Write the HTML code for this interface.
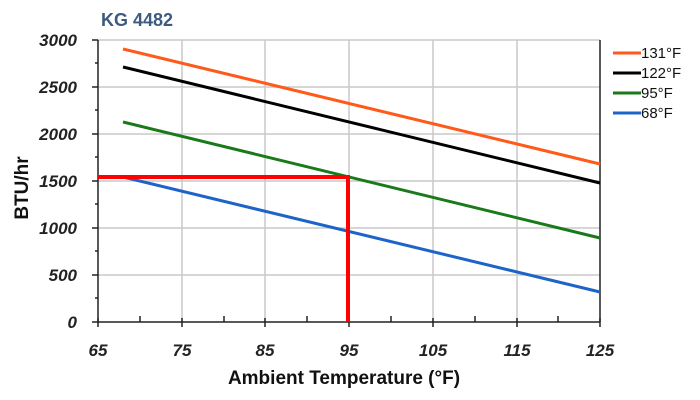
<!DOCTYPE html>
<html><head><style>body{margin:0;background:#fff}svg{display:block}</style></head><body>
<svg width="700" height="400" xmlns="http://www.w3.org/2000/svg" font-family="Liberation Sans, sans-serif">
<text x="101" y="26" font-size="18" font-weight="bold" fill="#3d5a80">KG 4482</text>
<g stroke="#c8c8c8" stroke-width="1.5">
<line x1="98" y1="40" x2="600" y2="40"/><line x1="98" y1="87" x2="600" y2="87"/><line x1="98" y1="134" x2="600" y2="134"/><line x1="98" y1="181" x2="600" y2="181"/><line x1="98" y1="228" x2="600" y2="228"/><line x1="98" y1="275" x2="600" y2="275"/>
<line x1="182" y1="40" x2="182" y2="322"/><line x1="265" y1="40" x2="265" y2="322"/><line x1="349" y1="40" x2="349" y2="322"/><line x1="433" y1="40" x2="433" y2="322"/><line x1="517" y1="40" x2="517" y2="322"/>
</g>
<g stroke="#222" stroke-width="1.5">
<line x1="98" y1="40" x2="98" y2="322"/><line x1="600" y1="40" x2="600" y2="322"/><line x1="98" y1="322" x2="600" y2="322"/>
<line x1="92" y1="40" x2="98" y2="40"/><line x1="92" y1="87" x2="98" y2="87"/><line x1="92" y1="134" x2="98" y2="134"/><line x1="92" y1="181" x2="98" y2="181"/><line x1="92" y1="228" x2="98" y2="228"/><line x1="92" y1="275" x2="98" y2="275"/><line x1="92" y1="322" x2="98" y2="322"/>
<line x1="95" y1="63" x2="98" y2="63"/><line x1="95" y1="110" x2="98" y2="110"/><line x1="95" y1="157" x2="98" y2="157"/><line x1="95" y1="204" x2="98" y2="204"/><line x1="95" y1="251" x2="98" y2="251"/><line x1="95" y1="298" x2="98" y2="298"/>
<line x1="140" y1="316" x2="140" y2="322"/><line x1="224" y1="316" x2="224" y2="322"/><line x1="307" y1="316" x2="307" y2="322"/><line x1="391" y1="316" x2="391" y2="322"/><line x1="475" y1="316" x2="475" y2="322"/><line x1="558" y1="316" x2="558" y2="322"/>
<line x1="182" y1="318" x2="182" y2="327"/><line x1="265" y1="318" x2="265" y2="327"/><line x1="349" y1="318" x2="349" y2="327"/><line x1="433" y1="318" x2="433" y2="327"/><line x1="517" y1="318" x2="517" y2="327"/><line x1="600" y1="318" x2="600" y2="327"/><line x1="98" y1="318" x2="98" y2="327"/>
</g>
<g font-size="17" font-weight="bold" font-style="italic" fill="#222" text-anchor="end">
<text x="77" y="46">3000</text><text x="77" y="93">2500</text><text x="77" y="140">2000</text><text x="77" y="187">1500</text><text x="77" y="234">1000</text><text x="77" y="281">500</text><text x="77" y="328">0</text>
</g>
<g font-size="17" font-weight="bold" font-style="italic" fill="#222" text-anchor="middle">
<text x="98" y="356">65</text><text x="182" y="356">75</text><text x="265" y="356">85</text><text x="349" y="356">95</text><text x="433" y="356">105</text><text x="517" y="356">115</text><text x="600" y="356">125</text>
</g>
<text x="344" y="384" font-size="19" font-weight="bold" text-anchor="middle" fill="#111">Ambient Temperature (°F)</text>
<text transform="translate(28,188) rotate(-90)" font-size="19" font-weight="bold" text-anchor="middle" fill="#111">BTU/hr</text>
<g stroke-width="3" fill="none">
<line x1="123" y1="49" x2="600" y2="164" stroke="#ff5a1a"/>
<line x1="123" y1="67" x2="600" y2="183" stroke="#000"/>
<line x1="123" y1="122" x2="600" y2="238" stroke="#1a7a1a"/>
<line x1="123" y1="177" x2="600" y2="292" stroke="#1e64c8"/>
</g>
<g stroke="#ff0000" stroke-width="4">
<line x1="98" y1="177" x2="350" y2="177"/><line x1="348" y1="177" x2="348" y2="322"/>
</g>
<g stroke-width="3">
<line x1="613" y1="53" x2="641" y2="53" stroke="#ff5a1a"/>
<line x1="613" y1="73" x2="641" y2="73" stroke="#000"/>
<line x1="613" y1="93" x2="641" y2="93" stroke="#1a7a1a"/>
<line x1="613" y1="113" x2="641" y2="113" stroke="#1e64c8"/>
</g>
<g font-size="15" fill="#111">
<text x="641" y="58">131°F</text><text x="641" y="78">122°F</text><text x="641" y="98">95°F</text><text x="641" y="118">68°F</text>
</g>
</svg>
</body></html>
